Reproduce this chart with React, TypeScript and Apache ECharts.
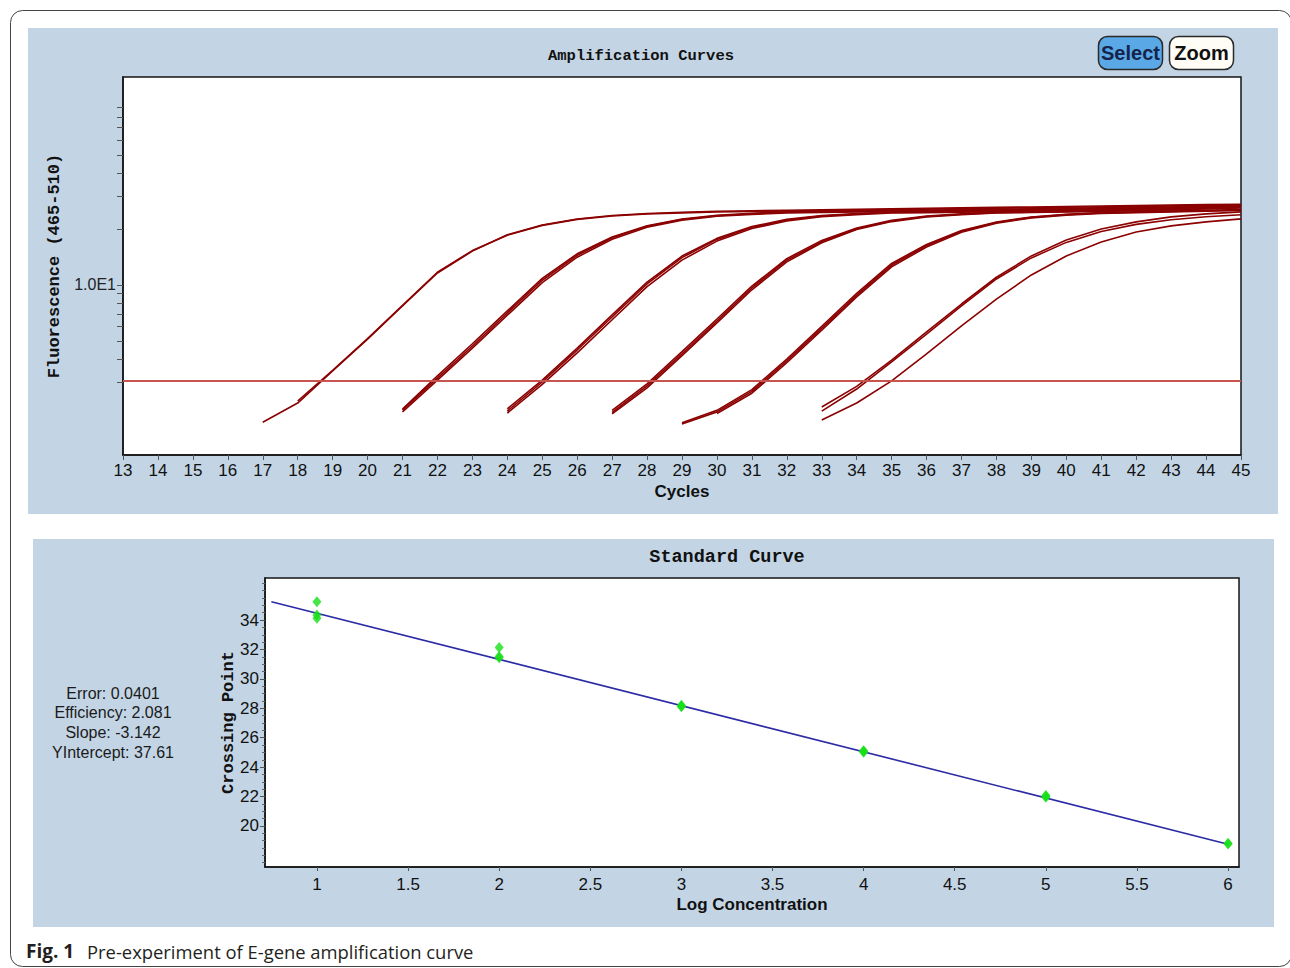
import React, { useEffect, useRef } from "react";
import * as echarts from "echarts";

// ---------- Amplification curves (fluorescence per cycle) ----------
const cycleMin = 13;
const cycleMax = 45;
const fluorescenceMin = 1.22;
const fluorescenceMax = 131;
const thresholdFluorescence = 3.05;
const fluorescenceTickValues = [3, 4, 5, 6, 7, 8, 9, 10, 20, 30, 40, 50, 60, 70, 80, 90];

const startG1A = 17;
const curveG1A = [1.83, 2.32, 3.45, 5.12, 7.71, 11.6, 15.2, 18.6, 21.0, 22.6, 23.6, 24.2, 24.6, 24.9, 25.05, 25.2, 25.35, 25.5, 25.65, 25.8, 25.95, 26.1, 26.25, 26.4, 26.55, 26.7, 26.85, 27.0, 27.15];
const startG1B = 18;
const curveG1B = [2.38, 3.48, 5.15, 7.78, 11.7, 15.3, 18.5, 20.9, 22.5, 23.45, 24.05, 24.4, 24.65, 24.8, 24.95, 25.1, 25.25, 25.4, 25.55, 25.7, 25.85, 26.0, 26.15, 26.3, 26.45, 26.6, 26.75, 26.9];

const startG2 = 21;
const curveG2A = [2.15, 3.25, 4.83, 7.25, 10.85, 14.7, 18.1, 20.8, 22.6, 23.7, 24.25, 24.7, 24.85, 24.97, 25.1, 25.22, 25.38, 25.5, 25.66, 25.8, 25.96, 26.12, 26.28, 26.5, 26.75];
const curveG2B = [2.13, 3.16, 4.7, 7.07, 10.6, 14.43, 17.91, 20.66, 22.47, 23.56, 24.11, 24.56, 24.69, 24.81, 24.93, 25.05, 25.21, 25.33, 25.49, 25.62, 25.78, 25.94, 26.1, 26.33, 26.59];
const curveG2C = [2.08, 3.08, 4.58, 6.88, 10.3, 14.1, 17.6, 20.4, 22.3, 23.4, 23.95, 24.4, 24.55, 24.67, 24.8, 24.92, 25.06, 25.2, 25.35, 25.48, 25.62, 25.78, 25.95, 26.15, 26.4];

const startG3 = 24;
const curveG3A = [2.16, 3.08, 4.58, 6.9, 10.35, 14.3, 17.8, 20.6, 22.5, 23.6, 24.2, 24.65, 24.78, 24.9, 25.02, 25.15, 25.3, 25.46, 25.64, 25.88, 26.18, 26.55];
const curveG3B = [2.1, 3.01, 4.47, 6.73, 10.12, 14.02, 17.57, 20.4, 22.31, 23.46, 24.05, 24.53, 24.62, 24.72, 24.85, 24.98, 25.12, 25.28, 25.45, 25.7, 26.0, 26.42];
const curveG3C = [2.05, 2.92, 4.32, 6.5, 9.8, 13.6, 17.2, 20.1, 22.05, 23.25, 23.88, 24.35, 24.48, 24.6, 24.72, 24.85, 25.0, 25.15, 25.32, 25.55, 25.82, 26.2];

const startG4 = 27;
const curveG4A = [2.12, 2.94, 4.38, 6.56, 9.85, 13.85, 17.35, 20.25, 22.25, 23.45, 24.12, 24.58, 24.75, 24.94, 25.12, 25.35, 25.6, 25.92, 26.25];
const curveG4B = [2.07, 2.87, 4.27, 6.4, 9.63, 13.58, 17.1, 20.05, 22.08, 23.33, 24.0, 24.47, 24.62, 24.81, 24.99, 25.21, 25.46, 25.78, 26.1];
const curveG4C = [2.03, 2.8, 4.17, 6.25, 9.42, 13.3, 16.85, 19.85, 21.9, 23.2, 23.88, 24.35, 24.5, 24.68, 24.86, 25.08, 25.32, 25.62, 25.95];

const startG5 = 29;
const curveG5A = [1.82, 2.12, 2.74, 4.0, 6.0, 9.02, 13.05, 16.5, 19.6, 21.8, 23.2, 24.0, 24.47, 24.7, 24.95, 25.2, 25.45];
const curveG5B = [1.79, 2.08, 2.68, 3.91, 5.86, 8.82, 12.79, 16.27, 19.42, 21.65, 23.07, 23.88, 24.35, 24.56, 24.81, 25.05, 25.3];
const startG5C = 30;
const curveG5C = [2.04, 2.62, 3.82, 5.72, 8.62, 12.52, 16.0, 19.2, 21.45, 22.9, 23.72, 24.2, 24.42, 24.66, 24.9, 25.14];

const startG6 = 33;
const curveG6A = [2.21, 2.85, 3.95, 5.59, 7.9, 11.0, 14.32, 17.46, 20.0, 21.82, 23.21, 24.08, 24.69];
const curveG6B = [2.1, 2.76, 3.86, 5.45, 7.71, 10.77, 13.97, 16.93, 19.39, 21.15, 22.42, 23.27, 23.85];
const curveG6C = [1.88, 2.32, 3.05, 4.26, 6.02, 8.4, 11.32, 14.32, 17.03, 19.27, 20.76, 21.82, 22.64];

const curves: { start: number; values: number[] }[] = [
  { start: startG1A, values: curveG1A },
  { start: startG1B, values: curveG1B },
  { start: startG2, values: curveG2A },
  { start: startG2, values: curveG2B },
  { start: startG2, values: curveG2C },
  { start: startG3, values: curveG3A },
  { start: startG3, values: curveG3B },
  { start: startG3, values: curveG3C },
  { start: startG4, values: curveG4A },
  { start: startG4, values: curveG4B },
  { start: startG4, values: curveG4C },
  { start: startG5, values: curveG5A },
  { start: startG5, values: curveG5B },
  { start: startG5C, values: curveG5C },
  { start: startG6, values: curveG6A },
  { start: startG6, values: curveG6B },
  { start: startG6, values: curveG6C },
];

// ---------- Standard curve ----------
const stdLogConcentration = [1, 1, 1, 2, 2, 2, 3, 3, 3, 4, 4, 4, 5, 5, 5, 6, 6];
const stdCrossingPoint = [35.24, 34.34, 34.12, 32.14, 31.44, 31.52, 28.15, 28.2, 28.1, 25.08, 25.02, 25.12, 22.02, 21.96, 22.08, 18.77, 18.82];
const fitLineX = [0.75, 6];
const fitLineY = [35.25, 18.76];
const stdXLabels = [1, 1.5, 2, 2.5, 3, 3.5, 4, 4.5, 5, 5.5, 6];
const stdYLabels = [20, 22, 24, 26, 28, 30, 32, 34];
const stdYMinorTicks = [17.5, 18, 18.5, 19, 19.5, 20.5, 21, 21.5, 22.5, 23, 23.5, 24.5, 25, 25.5, 26.5, 27, 27.5, 28.5, 29, 29.5, 30.5, 31, 31.5, 32.5, 33, 33.5, 34.5, 35, 35.5, 36, 36.5];
const stdXMin = 0.715;
const stdXMax = 6.06;
const stdYMin = 17.21;
const stdYMax = 36.86;
const statLines = ["Error: 0.0401", "Efficiency: 2.081", "Slope: -3.142", "YIntercept: 37.61"];

const sans = "'Liberation Sans', Arial, sans-serif";
const mono = "'Liberation Mono', 'Courier New', 'DejaVu Sans Mono', monospace";
const captionFont = "'Open Sans', 'Noto Sans', sans-serif";
const panelBlue = "#c3d5e5";
const curveRed = "#8b0000";

function txt(x: number, y: number, text: string, fontSize: number, opts: any = {}) {
  const align = opts.align || "center";
  return {
    type: "text",
    x,
    y,
    z: 100,
    silent: true,
    style: {
      text,
      fill: opts.fill || "#111",
      fontSize,
      fontFamily: opts.fontFamily || sans,
      fontWeight: opts.fontWeight || "normal",
      align,
      textAlign: align,
      verticalAlign: "middle",
      textVerticalAlign: "middle",
    },
  };
}

export default function App() {
  const ref = useRef<HTMLDivElement>(null);

  useEffect(() => {
    if (!ref.current) return;
    const chart = echarts.init(ref.current, null, { renderer: "svg" });

    const curveSeries = curves.map((c, idx) => ({
      type: "line",
      name: "curve" + idx,
      xAxisIndex: 0,
      yAxisIndex: 0,
      showSymbol: false,
      symbol: "none",
      silent: true,
      z: 2,
      lineStyle: { color: curveRed, width: 1.6 },
      data: c.values.map((v, i) => [c.start + i, v]),
    }));

    const option: any = {
      animation: false,
      backgroundColor: "#ffffff",
      graphic: [
        {
          type: "rect",
          z: -100,
          silent: true,
          shape: { x: 10.5, y: 10.5, width: 1281, height: 956, r: 12 },
          style: { fill: "none", stroke: "#444", lineWidth: 1 },
        },
        {
          type: "rect",
          z: -100,
          silent: true,
          shape: { x: 28, y: 28, width: 1250, height: 486 },
          style: { fill: panelBlue },
        },
        {
          type: "rect",
          z: -100,
          silent: true,
          shape: { x: 33, y: 539, width: 1241, height: 388 },
          style: { fill: panelBlue },
        },
        txt(641, 56, "Amplification Curves", 15.5, { fontFamily: mono, fontWeight: "bold" }),
        txt(727, 557, "Standard Curve", 18.5, { fontFamily: mono, fontWeight: "bold" }),
        {
          type: "rect",
          z: 90,
          silent: true,
          shape: { x: 1098.5, y: 36.5, width: 64, height: 33, r: 9 },
          style: { fill: "#5aa8e6", stroke: "#2a2a2a", lineWidth: 1.5 },
        },
        {
          type: "rect",
          z: 90,
          silent: true,
          shape: { x: 1169.5, y: 36.5, width: 64, height: 33, r: 9 },
          style: { fill: "#fffdf6", stroke: "#2a2a2a", lineWidth: 1.5 },
        },
        txt(1130.5, 53, "Select", 20, { fontWeight: "bold", fill: "#14244a" }),
        txt(1201.5, 53, "Zoom", 20, { fontWeight: "bold", fill: "#111" }),
        ...statLines.map((s, i) => txt(113, 693 + i * 19.7, s, 16, { fill: "#1a1a1a" })),
        txt(26, 951, "Fig. 1", 19, { align: "left", fontFamily: captionFont, fontWeight: "bold", fill: "#231f20" }),
        txt(87, 951, "Pre-experiment of E-gene amplification curve", 18.4, { align: "left", fontFamily: captionFont, fill: "#231f20" }),
      ],
      grid: [
        {
          left: 123,
          top: 77,
          width: 1118,
          height: 378,
          show: true,
          backgroundColor: "#ffffff",
          borderColor: "#151515",
          borderWidth: 1.5,
          containLabel: false,
        },
        {
          left: 265,
          top: 578,
          width: 974,
          height: 289,
          show: true,
          backgroundColor: "#ffffff",
          borderColor: "#151515",
          borderWidth: 1.5,
          containLabel: false,
        },
      ],
      xAxis: [
        {
          type: "value",
          gridIndex: 0,
          min: cycleMin,
          max: cycleMax,
          interval: 1,
          name: "Cycles",
          nameLocation: "middle",
          nameGap: 28,
          nameTextStyle: { fontFamily: sans, fontWeight: "bold", fontSize: 17, color: "#111" },
          axisLine: { show: true, lineStyle: { color: "#151515", width: 1.5 } },
          axisTick: { show: true, length: 5, lineStyle: { color: "#555" } },
          axisLabel: { fontFamily: sans, fontSize: 17, color: "#111", margin: 7 },
          splitLine: { show: false },
        },
        {
          type: "value",
          gridIndex: 1,
          min: stdXMin,
          max: stdXMax,
          name: "Log Concentration",
          nameLocation: "middle",
          nameGap: 29,
          nameTextStyle: { fontFamily: sans, fontWeight: "bold", fontSize: 17, color: "#111" },
          axisLine: { show: true, lineStyle: { color: "#151515", width: 1.5 } },
          axisTick: { show: true, length: 4, customValues: stdXLabels, lineStyle: { color: "#555" } },
          axisLabel: { fontFamily: sans, fontSize: 17, color: "#111", margin: 9, customValues: stdXLabels, formatter: (v: number) => String(v) },
          splitLine: { show: false },
        },
      ],
      yAxis: [
        {
          type: "log",
          logBase: 10,
          gridIndex: 0,
          min: fluorescenceMin,
          max: fluorescenceMax,
          position: "left",
          name: "Fluorescence (465-510)",
          nameLocation: "middle",
          nameGap: 51,
          nameTextStyle: { fontFamily: mono, fontWeight: "bold", fontSize: 17, color: "#111" },
          axisLine: { show: true, lineStyle: { color: "#151515", width: 1.5 } },
          axisTick: { show: false },
          axisLabel: {
            fontFamily: sans,
            fontSize: 16,
            color: "#222",
            margin: 7,
            showMinLabel: false,
            showMaxLabel: false,
            formatter: (v: number) => (Math.abs(v - 10) < 1e-6 ? "1.0E1" : ""),
          },
          splitLine: { show: false },
        },
        {
          type: "value",
          gridIndex: 0,
          min: Math.log10(fluorescenceMin),
          max: Math.log10(fluorescenceMax),
          position: "left",
          axisLine: { show: false },
          axisLabel: { show: false },
          axisTick: { show: true, length: 6, customValues: fluorescenceTickValues.map((v) => Math.log10(v)), lineStyle: { color: "#555" } },
          splitLine: { show: false },
        },
        {
          type: "value",
          gridIndex: 1,
          min: stdYMin,
          max: stdYMax,
          position: "left",
          name: "Crossing Point",
          nameLocation: "middle",
          nameGap: 28,
          nameMoveOverlap: false,
          nameTextStyle: { fontFamily: mono, fontWeight: "bold", fontSize: 17, color: "#111" },
          axisLine: { show: true, lineStyle: { color: "#151515", width: 1.5 } },
          axisTick: { show: true, length: 5, customValues: stdYLabels, lineStyle: { color: "#555" } },
          axisLabel: { fontFamily: sans, fontSize: 17, color: "#111", margin: 6, customValues: stdYLabels },
          splitLine: { show: false },
        },
        {
          type: "value",
          gridIndex: 1,
          min: stdYMin,
          max: stdYMax,
          position: "left",
          axisLine: { show: false },
          axisLabel: { show: false },
          axisTick: { show: true, length: 3, customValues: stdYMinorTicks, lineStyle: { color: "#666" } },
          splitLine: { show: false },
        },
      ],
      series: [
        ...curveSeries,
        {
          type: "line",
          name: "threshold",
          xAxisIndex: 0,
          yAxisIndex: 0,
          showSymbol: false,
          symbol: "none",
          silent: true,
          z: 4,
          lineStyle: { color: "#c65550", width: 2 },
          data: [
            [cycleMin, thresholdFluorescence],
            [cycleMax, thresholdFluorescence],
          ],
        },
        {
          type: "line",
          name: "fit",
          xAxisIndex: 1,
          yAxisIndex: 2,
          showSymbol: false,
          symbol: "none",
          silent: true,
          z: 3,
          lineStyle: { color: "#2b2ba6", width: 1.6 },
          data: fitLineX.map((x, i) => [x, fitLineY[i]]),
        },
        {
          type: "scatter",
          name: "standards",
          xAxisIndex: 1,
          yAxisIndex: 2,
          symbol: "diamond",
          symbolSize: [9, 11],
          silent: true,
          z: 5,
          itemStyle: { color: "#16e016" },
          data: stdLogConcentration.map((x, i) => [x, stdCrossingPoint[i]]),
        },
      ],
    };

    chart.setOption(option);
    return () => chart.dispose();
  }, []);

  return <div ref={ref} style={{ position: "absolute", left: 0, top: 0, width: 1290, height: 968 }} />;
}
